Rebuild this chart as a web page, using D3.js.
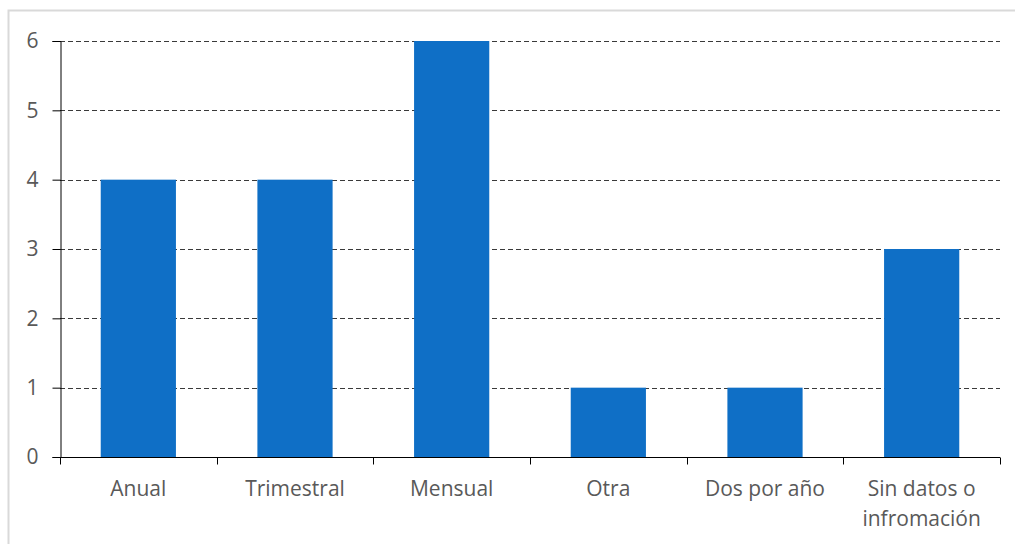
<!DOCTYPE html>
<meta charset="utf-8" />
<script src="https://d3js.org/d3.v7.min.js"></script>
<style>
  body { margin: 0; background: #fff; }
</style>
<body>
  <div id="chart"></div>
  <script>
    // chart data
    const categories = ["Anual", "Trimestral", "Mensual", "Otra", "Dos por año", "Sin datos o\ninfromación"];
    const values = [4, 4, 6, 1, 1, 3];
    const yTicks = [0, 1, 2, 3, 4, 5, 6];

    var margin = { top: 41, right: 15, bottom: 87, left: 60 },
      width = 1015 - margin.left - margin.right,
      height = 544 - margin.top - margin.bottom;

    var root = d3.select("#chart").append("svg")
      .attr("width", 1015)
      .attr("height", 544)
      .style("font-family", "'Open Sans', sans-serif");

    // outer chart border
    root.append("rect")
      .attr("x", 8.5).attr("y", 10.5)
      .attr("width", 1015).attr("height", 560)
      .attr("fill", "none")
      .attr("stroke", "#d9d9d9")
      .attr("stroke-width", 2);

    var svg = root.append("g")
      .attr("transform", "translate(" + margin.left + "," + margin.top + ")");

    var x = d3.scaleBand().domain(categories).range([0, width]).paddingInner(0.52).paddingOuter(0.26);
    var xb = d3.scaleBand().domain(categories).range([0, width]);
    var y = d3.scaleLinear().domain([0, 6]).range([height, 0]);

    // dashed gridlines
    svg.selectAll(".grid").data(yTicks.filter(d => d > 0)).enter()
      .append("line")
      .attr("x1", 0).attr("x2", width)
      .attr("y1", d => Math.round(y(d)) + 0.5).attr("y2", d => Math.round(y(d)) + 0.5)
      .attr("stroke", "#3a3a3a")
      .attr("stroke-width", 1.2)
      .attr("stroke-dasharray", "5,3");

    // bars
    svg.selectAll(".bar").data(values).enter()
      .append("rect")
      .attr("x", (d, i) => x(categories[i]))
      .attr("y", d => y(d))
      .attr("width", x.bandwidth())
      .attr("height", d => height - y(d))
      .attr("fill", "#0f6fc6");

    // y axis
    var yAxis = svg.append("g")
      .attr("transform", "translate(0.5,0)")
      .call(d3.axisLeft(y).tickValues(yTicks).tickSize(8).tickPadding(14).tickFormat(d3.format("d")))
      .attr("font-family", "'Open Sans', sans-serif")
      .attr("font-size", 21);
    yAxis.select(".domain").attr("stroke", "#000");
    yAxis.selectAll("line").attr("stroke", "#000");
    yAxis.selectAll("text").attr("fill", "#595959");

    // x axis with ticks at category boundaries
    var xAxis = svg.append("g").attr("transform", "translate(0," + (height + 0.5) + ")");
    xAxis.append("line").attr("x1", 0).attr("x2", width).attr("stroke", "#000");
    xAxis.selectAll(".tk").data(d3.range(categories.length + 1)).enter()
      .append("line")
      .attr("x1", i => Math.round(i * xb.step()) + 0.5)
      .attr("x2", i => Math.round(i * xb.step()) + 0.5)
      .attr("y1", 0).attr("y2", 7)
      .attr("stroke", "#000");

    xAxis.selectAll(".lbl").data(categories).enter()
      .append("text")
      .attr("text-anchor", "middle")
      .attr("fill", "#595959")
      .style("font-size", "21px")
      .each(function (d) {
        var t = d3.select(this);
        d.split("\n").forEach(function (s, j) {
          t.append("tspan")
            .attr("x", xb(d) + xb.bandwidth() / 2)
            .attr("y", 38 + j * 30)
            .text(s);
        });
      });
  </script>
</body>
